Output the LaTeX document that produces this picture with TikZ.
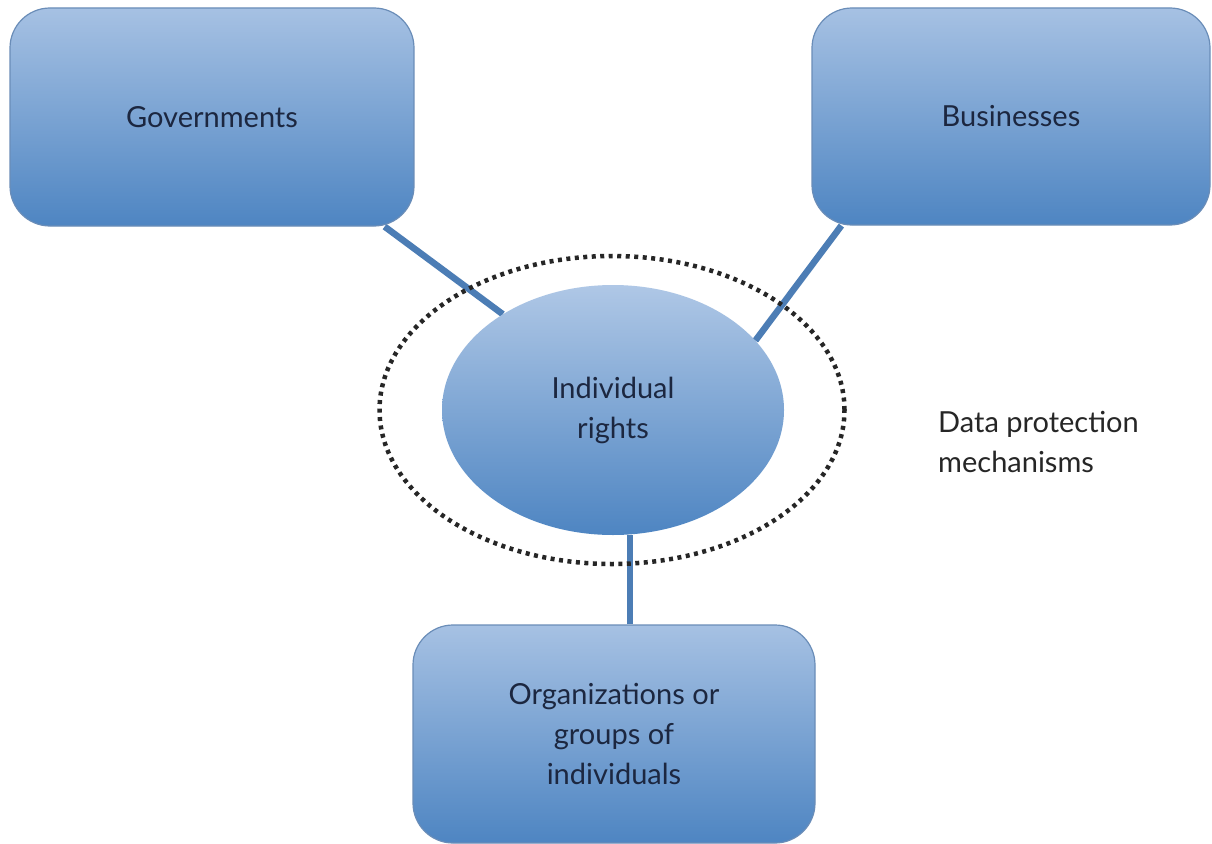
\documentclass[tikz,border=0pt]{standalone}
\usepackage{fontspec}
\setmainfont{Lato}
\usetikzlibrary{shapes.geometric,calc}
\pgfdeclarelayer{background}
\pgfsetlayers{background,main}
\definecolor{boxtop}{HTML}{A6C1E3}
\definecolor{boxbot}{HTML}{4E85C2}
\definecolor{boxline}{HTML}{6A8DB8}
\definecolor{conncol}{HTML}{4C7DB5}
\definecolor{txtcol}{HTML}{1C2740}
\tikzset{
  stakebox/.style={draw=boxline, line width=1.2pt, rounded corners=40pt,
    top color=boxtop, bottom color=boxbot, text=txtcol,
    font=\fontsize{29}{40}\selectfont, align=center, inner sep=0pt},
  rightsnode/.style={ellipse, draw=none, top color=boxtop!90!white, bottom color=boxbot,
    minimum width=342pt, minimum height=250pt, inner sep=0pt, text=txtcol,
    font=\fontsize{29}{40}\selectfont, align=center},
  conn/.style={draw=conncol, line width=6.5pt},
  dotring/.style={ellipse, draw=black!85, line width=4.5pt, dash pattern=on 4pt off 4.5pt,
    minimum width=465pt, minimum height=308pt, inner sep=0pt},
  plain/.style={font=\fontsize{29}{40}\selectfont, text=black!85, align=left, inner sep=0pt}
}
\begin{document}
\begin{tikzpicture}[x=1pt,y=-1pt]
\useasboundingbox (0,0) rectangle (1212,843);
\begin{pgfonlayer}{background}
\fill[white] (0,0) rectangle (1212,843);
\end{pgfonlayer}
% nodes
\node[dotring] (ring) at (612,410) {};
\node[stakebox, minimum width=404pt, minimum height=218pt] (gov) at (212,117) {Governments};
\node[stakebox, minimum width=398pt, minimum height=217pt] (biz) at (1011,116.5) {Businesses};
\node[stakebox, minimum width=402pt, minimum height=218pt] (org) at (614,734) {Organizations or\\groups of\\individuals};
\node[rightsnode] (ind) at (613,410) {Individual\\rights};
\node[plain, anchor=west] (dpm) at (938,442) {Data protection\\mechanisms};
\coordinate (govfoot) at ($(gov.south east)+(-30,0)$);
\coordinate (bizfoot) at ($(biz.south west)+(30,0)$);
\coordinate (orgtop) at ($(org.north)+(16,0)$);
% connectors behind the shapes
\begin{pgfonlayer}{background}
\draw[conn] (govfoot) -- (ind.139);
\draw[conn] (bizfoot) -- (ind.26);
\draw[conn] (orgtop) -- (orgtop |- ind.south);
\end{pgfonlayer}
\end{tikzpicture}
\end{document}
